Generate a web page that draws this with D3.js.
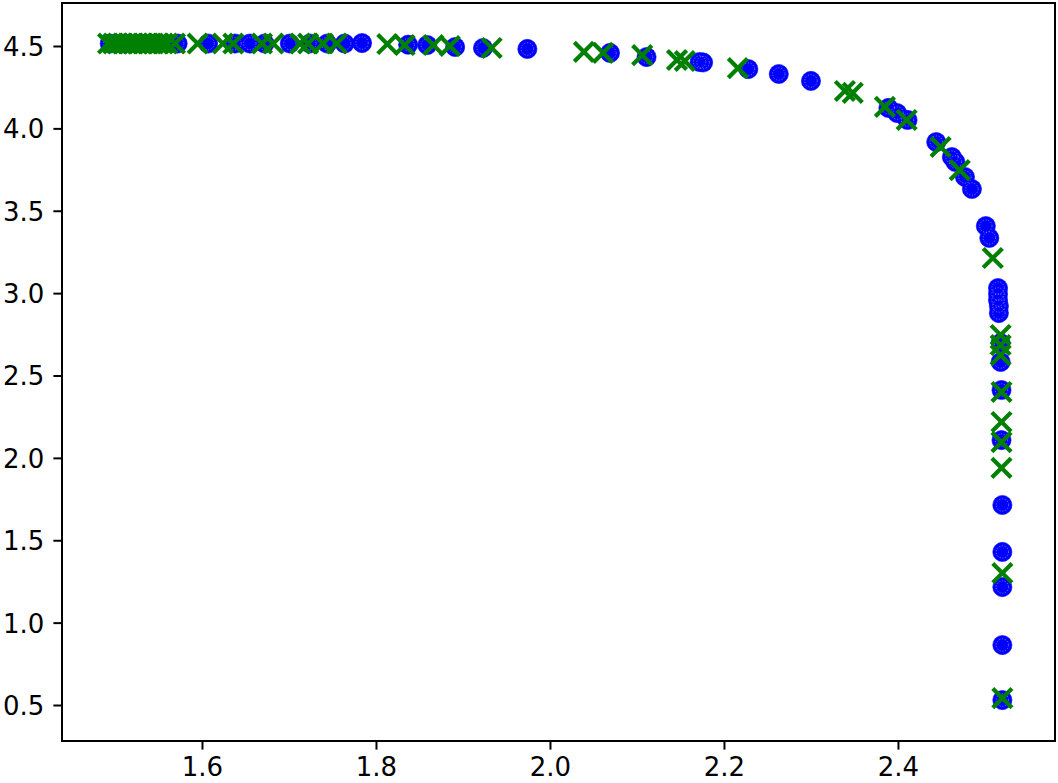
<!DOCTYPE html>
<html>
<head>
<meta charset="utf-8">
<script src="https://cdn.jsdelivr.net/npm/d3@7"></script>
<style>
  html, body { margin: 0; padding: 0; background: #fff; }
  svg { display: block; }
  .tick text { font-family: "DejaVu Sans", sans-serif; font-size: 26px; fill: #000; }
</style>
</head>
<body>
<div id="chart"></div>
<script>
// blue circles
var circleX = [1.494, 1.511, 1.529, 1.546, 1.572, 1.607, 1.638, 1.655, 1.672, 1.701,
               1.724, 1.744, 1.764, 1.784, 1.837, 1.859, 1.891, 1.923, 1.974, 2.069,
               2.111, 2.172, 2.176, 2.228, 2.263, 2.300, 2.389, 2.399, 2.411, 2.444,
               2.462, 2.466, 2.477, 2.485, 2.501, 2.505, 2.515, 2.515, 2.515, 2.516,
               2.516, 2.518, 2.518, 2.519, 2.519, 2.520, 2.520, 2.520, 2.520, 2.520];
var circleY = [4.515, 4.515, 4.515, 4.515, 4.515, 4.515, 4.515, 4.515, 4.515, 4.515,
               4.515, 4.515, 4.515, 4.518, 4.508, 4.506, 4.494, 4.488, 4.482, 4.458,
               4.433, 4.403, 4.400, 4.360, 4.330, 4.288, 4.124, 4.093, 4.051, 3.917,
               3.826, 3.796, 3.705, 3.632, 3.407, 3.335, 3.031, 2.995, 2.958, 2.922,
               2.879, 2.697, 2.582, 2.412, 2.108, 1.714, 1.429, 1.216, 0.864, 0.530];

// green crosses
var crossX = [1.492, 1.498, 1.503, 1.509, 1.515, 1.521, 1.526, 1.532, 1.538, 1.544,
              1.549, 1.555, 1.560, 1.569, 1.595, 1.624, 1.636, 1.669, 1.682, 1.713,
              1.722, 1.739, 1.755, 1.813, 1.833, 1.866, 1.885, 1.933, 2.039, 2.061,
              2.106, 2.146, 2.155, 2.216, 2.339, 2.348, 2.385, 2.410, 2.449, 2.471,
              2.509, 2.518, 2.518, 2.518, 2.519, 2.519, 2.519, 2.519, 2.520, 2.520];
var crossY = [4.515, 4.515, 4.515, 4.515, 4.515, 4.515, 4.515, 4.515, 4.515, 4.515,
              4.515, 4.515, 4.515, 4.515, 4.515, 4.515, 4.515, 4.515, 4.515, 4.515,
              4.515, 4.515, 4.515, 4.512, 4.506, 4.506, 4.500, 4.488, 4.464, 4.458,
              4.445, 4.415, 4.409, 4.366, 4.227, 4.215, 4.130, 4.051, 3.887, 3.747,
              3.213, 2.746, 2.685, 2.624, 2.400, 2.218, 2.096, 1.939, 1.301, 0.542];

var xTicks = [1.6, 1.8, 2.0, 2.2, 2.4];
var yTicks = [0.5, 1.0, 1.5, 2.0, 2.5, 3.0, 3.5, 4.0, 4.5];

var width = 1058,
    height = 783;
var plot = { left: 62, top: 3, right: 1055, bottom: 741 };

var xScale = d3.scaleLinear()
  .domain([1.4391, 2.5805])
  .range([plot.left, plot.right]);
var yScale = d3.scaleLinear()
  .domain([0.2815, 4.761])
  .range([plot.bottom, plot.top]);

var svg = d3.select("#chart")
  .append("svg")
    .attr("width", width)
    .attr("height", height);

drawAxes();
drawCircles();
drawCrosses();
drawSpines();

function drawAxes() {
  var tickLength = 8.6;

  var xAxis = d3.axisBottom(xScale)
    .tickValues(xTicks)
    .tickFormat(d3.format(".1f"))
    .tickSizeInner(tickLength)
    .tickSizeOuter(0)
    .tickPadding(7);
  var gx = svg.append("g")
    .attr("transform", "translate(0," + plot.bottom + ")")
    .call(xAxis);
  gx.select(".domain").remove();
  gx.selectAll(".tick line").attr("stroke", "#000").attr("stroke-width", 2);
  gx.selectAll(".tick text").attr("dy", "0.74em");

  var yAxis = d3.axisLeft(yScale)
    .tickValues(yTicks)
    .tickFormat(d3.format(".1f"))
    .tickSizeInner(tickLength)
    .tickSizeOuter(0)
    .tickPadding(9);
  var gy = svg.append("g")
    .attr("transform", "translate(" + plot.left + ",0)")
    .call(yAxis);
  gy.select(".domain").remove();
  gy.selectAll(".tick line").attr("stroke", "#000").attr("stroke-width", 2);
  gy.selectAll(".tick text").attr("dy", "0.36em");
}

function drawCircles() {
  var points = circleX.map(function(x, i) { return { x: x, y: circleY[i] }; });
  var g = svg.append("g");
  g.selectAll("circle.dot")
    .data(points)
    .enter()
      .append("circle")
      .attr("class", "dot")
      .attr("cx", function(d) { return xScale(d.x); })
      .attr("cy", function(d) { return yScale(d.y); })
      .attr("r", 9.6)
      .attr("fill", "#0000ff")
      .attr("stroke", "#0000ff")
      .attr("stroke-width", 0.6);
  // faint dotted inner ring seen on the markers
  g.selectAll("circle.ring")
    .data(points)
    .enter()
      .append("circle")
      .attr("class", "ring")
      .attr("cx", function(d) { return xScale(d.x); })
      .attr("cy", function(d) { return yScale(d.y); })
      .attr("r", 6.2)
      .attr("fill", "none")
      .attr("stroke", "#fff")
      .attr("stroke-width", 0.7)
      .attr("stroke-dasharray", "1.2,1.6")
      .attr("opacity", 0.6);
}

function drawCrosses() {
  var points = crossX.map(function(x, i) { return { x: x, y: crossY[i] }; });
  var half = 9.6;
  svg.append("g")
    .selectAll("path")
    .data(points)
    .enter()
      .append("path")
      .attr("d", function(d) {
        var cx = xScale(d.x), cy = yScale(d.y);
        return "M" + (cx - half) + "," + (cy - half) + "L" + (cx + half) + "," + (cy + half) +
               "M" + (cx - half) + "," + (cy + half) + "L" + (cx + half) + "," + (cy - half);
      })
      .attr("stroke", "#008000")
      .attr("stroke-width", 4.2)
      .attr("fill", "none");
}

function drawSpines() {
  svg.append("rect")
    .attr("x", plot.left)
    .attr("y", plot.top)
    .attr("width", plot.right - plot.left)
    .attr("height", plot.bottom - plot.top)
    .attr("fill", "none")
    .attr("stroke", "#000")
    .attr("stroke-width", 2);
}
</script>
</body>
</html>
